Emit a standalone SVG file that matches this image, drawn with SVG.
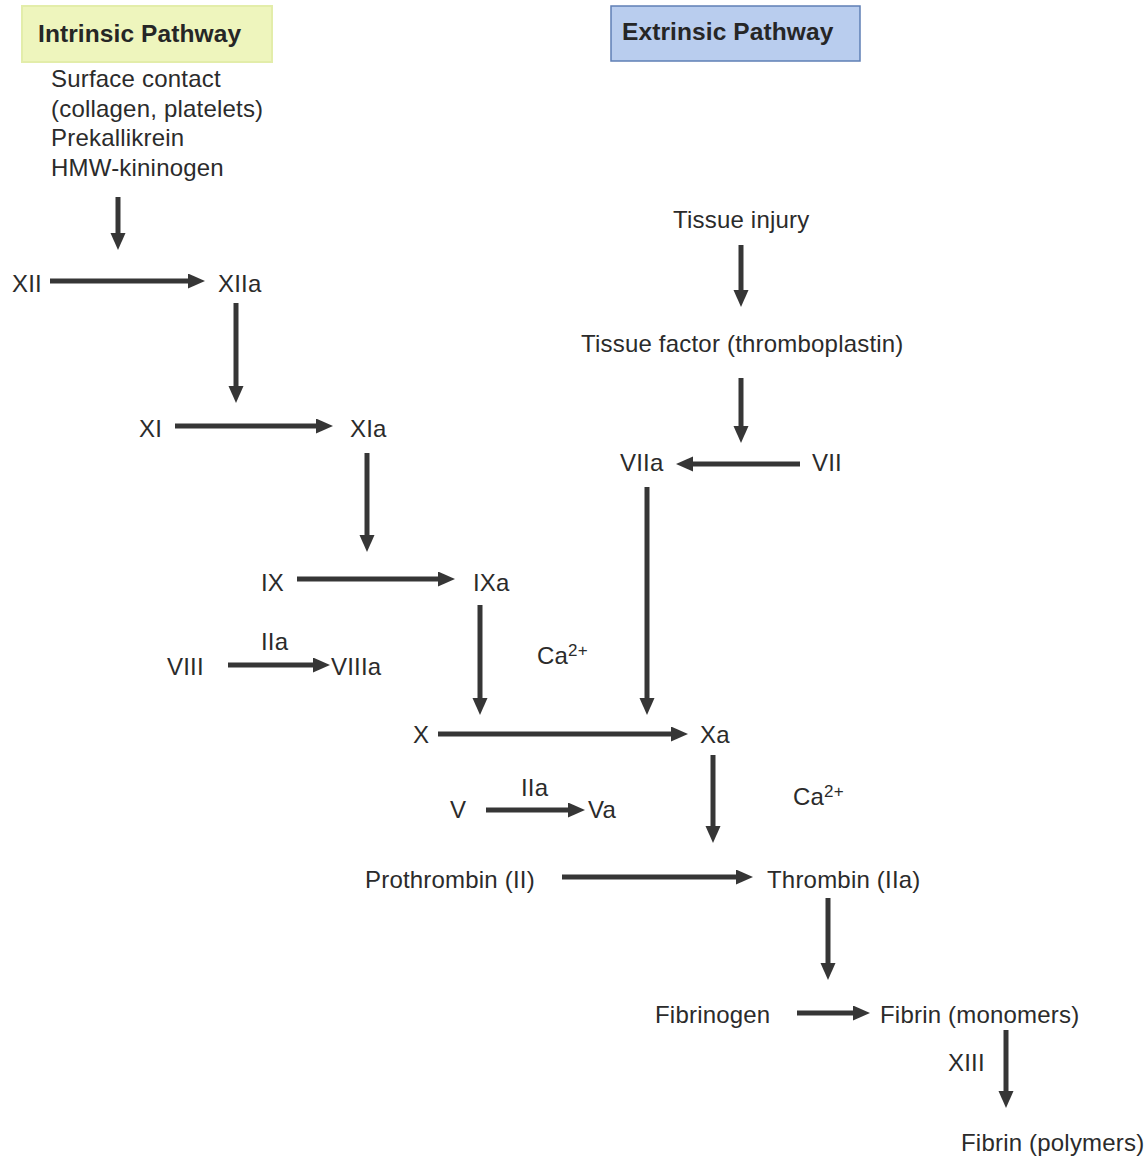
<svg xmlns="http://www.w3.org/2000/svg" width="1146" height="1156" viewBox="0 0 1146 1156">
<style>
text{font-family:"Liberation Sans",Arial,sans-serif;font-size:24px;fill:#2b2b2b;letter-spacing:0.2px}
.t{font-weight:bold;font-size:24.5px;fill:#262626;letter-spacing:0.1px}
.sup{font-size:17px}
.c line{stroke:#363636;stroke-width:5}
</style>
<defs>
<marker id="ah" markerUnits="userSpaceOnUse" markerWidth="18" markerHeight="16" refX="3" refY="7.5" orient="auto">
<path d="M0,0 L17,7.5 L0,15 z" fill="#363636"/>
</marker>
</defs>
<rect width="1146" height="1156" fill="#fff"/>
<g id="intrinsic"><rect x="22" y="6" width="250" height="56" fill="#eef5bd" stroke="#e3edaa" stroke-width="2"/><text class="t" x="38" y="42">Intrinsic Pathway</text></g>
<g id="extrinsic"><rect x="611" y="6" width="249" height="55" fill="#b9cdee" stroke="#5f7fb5" stroke-width="1.5"/><text class="t" x="622" y="40">Extrinsic Pathway</text></g>
<g id="contact"><text x="51" y="87">Surface contact</text><text x="51" y="117">(collagen, platelets)</text><text x="51" y="146">Prekallikrein</text><text x="51" y="176">HMW-kininogen</text></g>
<g id="n-XII"><text x="12" y="292">XII</text></g>
<g id="n-XIIa"><text x="218" y="292">XIIa</text></g>
<g id="n-XI"><text x="139" y="437">XI</text></g>
<g id="n-XIa"><text x="350" y="437">XIa</text></g>
<g id="n-IX"><text x="261" y="591">IX</text></g>
<g id="n-IXa"><text x="473" y="591">IXa</text></g>
<g id="n-IIa1"><text x="261" y="650">IIa</text></g>
<g id="n-VIII"><text x="167" y="675">VIII</text></g>
<g id="n-VIIIa"><text x="331" y="675">VIIIa</text></g>
<g id="n-Ca1"><text x="537" y="664">Ca<tspan class="sup" dy="-8">2+</tspan></text></g>
<g id="n-injury"><text x="673" y="228">Tissue injury</text></g>
<g id="n-tf"><text x="581" y="352">Tissue factor (thromboplastin)</text></g>
<g id="n-VIIa"><text x="620" y="471">VIIa</text></g>
<g id="n-VII"><text x="812" y="471">VII</text></g>
<g id="n-X"><text x="413" y="743">X</text></g>
<g id="n-Xa"><text x="700" y="743">Xa</text></g>
<g id="n-IIa2"><text x="521" y="796">IIa</text></g>
<g id="n-V"><text x="450" y="818">V</text></g>
<g id="n-Va"><text x="588" y="818">Va</text></g>
<g id="n-Ca2"><text x="793" y="805">Ca<tspan class="sup" dy="-8">2+</tspan></text></g>
<g id="n-prothrombin"><text x="365" y="888">Prothrombin (II)</text></g>
<g id="n-thrombin"><text x="767" y="888">Thrombin (IIa)</text></g>
<g id="n-fibrinogen"><text x="655" y="1023">Fibrinogen</text></g>
<g id="n-fibmono"><text x="880" y="1023">Fibrin (monomers)</text></g>
<g id="n-XIII"><text x="948" y="1071">XIII</text></g>
<g id="n-fibpoly"><text x="961" y="1151">Fibrin (polymers)</text></g>
<g id="connectors" class="c">
<line x1="118" y1="197" x2="118" y2="236" marker-end="url(#ah)"/>
<line x1="50" y1="281" x2="191" y2="281" marker-end="url(#ah)"/>
<line x1="236" y1="303" x2="236" y2="389" marker-end="url(#ah)"/>
<line x1="175" y1="426" x2="319" y2="426" marker-end="url(#ah)"/>
<line x1="367" y1="453" x2="367" y2="538" marker-end="url(#ah)"/>
<line x1="297" y1="579" x2="441" y2="579" marker-end="url(#ah)"/>
<line x1="228" y1="665" x2="316" y2="665" marker-end="url(#ah)"/>
<line x1="480" y1="605" x2="480" y2="701" marker-end="url(#ah)"/>
<line x1="741" y1="245" x2="741" y2="293" marker-end="url(#ah)"/>
<line x1="741" y1="378" x2="741" y2="429" marker-end="url(#ah)"/>
<line x1="800" y1="464" x2="690" y2="464" marker-end="url(#ah)"/>
<line x1="647" y1="487" x2="647" y2="701" marker-end="url(#ah)"/>
<line x1="438" y1="734" x2="674" y2="734" marker-end="url(#ah)"/>
<line x1="486" y1="810" x2="571" y2="810" marker-end="url(#ah)"/>
<line x1="713" y1="755" x2="713" y2="829" marker-end="url(#ah)"/>
<line x1="562" y1="877" x2="739" y2="877" marker-end="url(#ah)"/>
<line x1="828" y1="898" x2="828" y2="966" marker-end="url(#ah)"/>
<line x1="797" y1="1013" x2="856" y2="1013" marker-end="url(#ah)"/>
<line x1="1006" y1="1030" x2="1006" y2="1094" marker-end="url(#ah)"/>
</g>
</svg>
